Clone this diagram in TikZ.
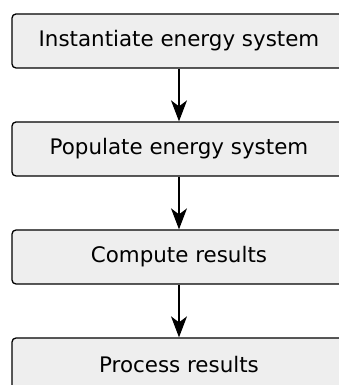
\documentclass[tikz,border=0pt]{standalone}
\usepackage{fontspec}
\setmainfont{DejaVu Sans}
\usepackage{tikz}
\usetikzlibrary{arrows.meta}
\pgfdeclarelayer{edgelayer}
\pgfdeclarelayer{nodelayer}
\pgfsetlayers{edgelayer,nodelayer,main}
\definecolor{boxfill}{HTML}{EEEEEE}
\tikzstyle{stage_box}=[rectangle,rounded corners=4pt,draw=black,line width=1.3pt,fill=boxfill,minimum width=334pt,minimum height=54pt,inner sep=0pt,font=\fontsize{21.4}{25}\selectfont]
\tikzstyle{flow}=[-{Stealth[length=21pt,width=16pt,inset=6pt]},draw=black,line width=1.3pt]
\begin{document}
\begin{tikzpicture}[x=1pt,y=1pt]
	\useasboundingbox (0, 0) rectangle (338, 385);
	\begin{pgfonlayer}{nodelayer}
		\node [style={stage_box}] (0) at (179, 344) {Instantiate energy system};
		\node [style={stage_box}] (1) at (179, 236) {Populate energy system};
		\node [style={stage_box}] (2) at (179, 128) {Compute results};
		\node [style={stage_box}] (3) at (179, 20) {Process results};
	\end{pgfonlayer}
	\begin{pgfonlayer}{edgelayer}
		\draw [style=flow] (0) to (1);
		\draw [style=flow] (1) to (2);
		\draw [style=flow] (2) to (3);
	\end{pgfonlayer}
\end{tikzpicture}
\end{document}
